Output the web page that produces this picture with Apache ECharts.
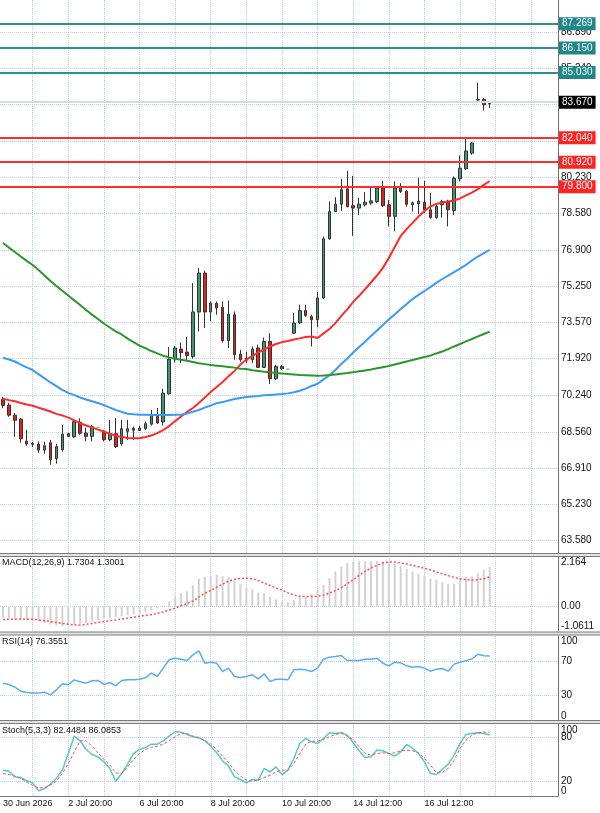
<!DOCTYPE html>
<html>
<head>
<meta charset="utf-8">
<script src="https://cdn.jsdelivr.net/npm/echarts@6/dist/echarts.min.js"></script>
<style>
  html, body { margin: 0; padding: 0; background: #fff; }
  #chart { width: 600px; height: 813px; }
</style>
</head>
<body>
<div id="chart"></div>
<script>
// ---- data (H4 bars, oldest first) ----
const opens = [70.04,69.79,69.33,69.15,68.14,68.03,68.01,67.73,68.07,67.34,
  67.75,68.48,68.34,69.01,68.51,68.36,68.77,68.59,68.21,68.48,
  68.02,68.59,68.73,68.63,68.71,68.92,69.27,69.02,70.31,71.90,
  72.36,72.22,72.02,74.06,75.84,74.06,74.45,74.27,72.75,73.93,
  72.13,71.95,71.87,72.41,71.52,72.71,71.00,71.56,71.44,73.09,
  73.56,74.13,73.85,73.70,74.70,77.41,78.66,79.00,79.70,78.93,
  78.82,78.97,79.05,79.12,79.74,78.97,78.44,79.76,79.58,78.97,
  79.02,79.08,78.74,78.39,78.97,79.12,78.70,80.16,80.62,81.34,
  83.80,83.81,83.61];
const closes = [69.78,69.33,69.10,68.25,68.01,68.00,67.73,67.93,67.29,67.89,
  68.46,68.36,69.03,68.50,68.36,68.80,68.77,68.21,68.48,67.89,
  68.71,68.71,68.64,68.74,68.94,69.35,68.97,70.34,71.90,72.41,
  72.20,72.07,74.06,75.84,74.06,74.47,74.24,72.75,73.96,72.10,
  71.87,71.85,72.36,71.52,72.71,71.00,71.56,71.46,71.44,73.55,
  74.13,73.90,73.70,74.70,77.41,78.66,79.00,79.66,78.89,78.82,
  79.00,79.09,79.15,79.74,78.93,78.44,79.74,79.58,79.00,79.06,
  79.14,78.74,78.39,78.89,79.12,78.74,80.19,80.65,81.44,81.80,
  83.77,83.55,83.67];
const lows = [69.65,69.26,68.34,68.07,67.93,67.88,67.61,67.56,67.06,67.11,
  67.66,68.32,68.28,68.43,68.13,68.13,68.74,68.13,68.13,67.83,
  67.93,68.20,68.20,68.62,68.66,68.86,68.94,68.86,70.27,71.75,
  71.72,71.84,71.92,73.17,73.32,73.63,73.93,72.66,72.40,71.87,
  71.78,71.71,71.72,71.49,71.49,70.76,70.95,71.41,71.42,73.05,
  73.50,73.84,72.48,73.35,74.65,77.37,78.64,78.70,78.85,77.55,
  78.51,78.89,78.97,79.05,78.87,77.98,77.75,79.51,78.89,78.66,
  78.56,78.59,78.33,78.33,78.38,77.98,78.51,80.04,80.57,81.26,
  83.74,83.29,83.40];
const highs = [70.17,69.90,69.43,69.21,68.66,68.11,68.13,68.11,68.20,68.02,
  68.89,68.53,69.14,69.19,68.76,68.89,68.80,68.66,69.12,69.20,
  69.12,69.12,68.81,68.85,69.04,69.58,69.66,70.54,72.45,72.51,
  72.66,72.91,75.38,76.07,75.95,74.54,74.54,74.54,74.59,74.08,
  72.33,72.24,72.48,72.56,72.89,73.09,71.64,71.64,71.47,74.01,
  74.39,74.39,73.93,74.99,77.52,79.12,79.32,80.16,80.53,80.30,
  79.29,79.55,79.73,79.81,80.07,79.20,80.04,79.96,79.66,79.12,
  80.21,80.07,79.51,78.97,79.20,79.20,80.27,81.23,82.03,81.86,
  84.57,83.86,83.73];

const maFast = [70.08,70.02,69.97,69.89,69.82,69.76,69.67,69.59,69.50,69.39,
  69.32,69.22,69.09,68.96,68.86,68.77,68.67,68.58,68.48,68.39,
  68.33,68.29,68.27,68.27,68.33,68.40,68.51,68.65,68.83,69.06,
  69.27,69.48,69.66,69.89,70.14,70.39,70.62,70.85,71.12,71.36,
  71.65,71.88,72.04,72.21,72.34,72.48,72.59,72.68,72.73,72.80,
  72.85,72.91,72.94,72.87,73.08,73.28,73.55,73.88,74.18,74.52,
  74.80,75.10,75.41,75.73,76.08,76.53,77.04,77.54,77.86,78.14,
  78.43,78.69,78.89,79.01,79.08,79.12,79.17,79.26,79.40,79.53,
  79.69,79.88,80.06];
const maMid = [71.96,71.88,71.79,71.65,71.52,71.40,71.21,71.02,70.83,70.66,
  70.49,70.35,70.25,70.14,70.05,69.97,69.89,69.79,69.68,69.57,
  69.48,69.40,69.37,69.35,69.35,69.34,69.34,69.34,69.34,69.35,
  69.35,69.41,69.49,69.57,69.68,69.77,69.88,69.93,70.00,70.07,
  70.12,70.16,70.19,70.21,70.24,70.26,70.28,70.30,70.33,70.38,
  70.45,70.55,70.67,70.77,70.97,71.15,71.40,71.68,71.93,72.20,
  72.45,72.70,72.96,73.21,73.46,73.72,73.94,74.20,74.42,74.65,
  74.84,75.02,75.20,75.39,75.57,75.73,75.89,76.05,76.22,76.42,
  76.60,76.76,76.90];
const maSlow = [77.22,77.01,76.81,76.60,76.40,76.21,75.98,75.73,75.48,75.25,
  75.03,74.81,74.59,74.38,74.15,73.94,73.74,73.53,73.35,73.17,
  73.03,72.84,72.68,72.52,72.40,72.27,72.16,72.05,71.98,71.92,
  71.87,71.82,71.77,71.71,71.67,71.63,71.60,71.57,71.54,71.51,
  71.46,71.45,71.39,71.36,71.32,71.30,71.26,71.24,71.22,71.20,
  71.17,71.16,71.15,71.14,71.15,71.17,71.20,71.23,71.26,71.30,
  71.34,71.38,71.42,71.48,71.53,71.58,71.65,71.72,71.79,71.86,
  71.93,72.00,72.06,72.16,72.25,72.36,72.48,72.59,72.71,72.82,
  72.94,73.05,73.16];

const macdMain = [-0.48,-0.50,-0.53,-0.56,-0.60,-0.62,-0.64,-0.70,-0.78,-0.82,
  -0.85,-0.82,-0.80,-0.74,-0.70,-0.64,-0.58,-0.52,-0.48,-0.45,
  -0.42,-0.38,-0.34,-0.30,-0.24,-0.15,-0.08,0.05,0.22,0.44,
  0.59,0.66,0.92,1.22,1.29,1.35,1.39,1.32,1.29,1.17,
  0.98,0.81,0.76,0.61,0.59,0.44,0.32,0.22,0.18,0.29,
  0.44,0.44,0.56,0.73,0.95,1.24,1.54,1.76,1.90,1.95,
  1.98,1.98,1.98,1.98,1.98,1.93,1.87,1.76,1.64,1.54,
  1.43,1.36,1.22,1.17,1.07,1.00,1.00,1.24,1.29,1.32,
  1.46,1.61,1.73];
const macdSignal = [-0.56,-0.55,-0.55,-0.54,-0.54,-0.55,-0.58,-0.61,-0.65,-0.69,
  -0.73,-0.77,-0.80,-0.80,-0.77,-0.73,-0.69,-0.65,-0.61,-0.58,
  -0.54,-0.50,-0.46,-0.42,-0.38,-0.35,-0.29,-0.23,-0.15,-0.07,
  0.04,0.13,0.25,0.41,0.59,0.70,0.85,0.98,1.11,1.19,
  1.23,1.24,1.22,1.14,1.02,0.92,0.82,0.72,0.60,0.51,
  0.45,0.44,0.44,0.45,0.50,0.59,0.70,0.83,1.00,1.17,
  1.36,1.54,1.68,1.80,1.90,1.95,1.95,1.90,1.86,1.80,
  1.74,1.67,1.60,1.51,1.43,1.36,1.27,1.22,1.17,1.16,
  1.17,1.22,1.30];

const rsi = [44.5,43.0,39.8,35.1,33.5,32.8,32.8,33.9,30.8,36.7,
  43.7,42.6,48.4,46.1,44.5,47.3,47.7,43.0,45.3,41.4,
  47.7,48.4,48.4,49.2,50.8,56.3,52.4,62.2,72.0,73.9,
  72.7,71.2,77.8,82.5,68.0,69.2,68.0,58.2,62.2,52.4,
  51.2,52.4,54.3,49.6,55.5,46.5,49.2,49.2,48.4,60.2,
  61.0,60.2,58.2,62.2,72.7,75.1,75.9,77.1,71.2,71.2,
  71.2,72.7,72.7,73.9,68.0,64.9,69.2,68.4,64.9,63.3,
  64.1,62.2,58.6,61.0,61.8,58.6,66.9,69.2,70.8,73.1,
  78.5,76.8,76.36];

const stochMain = [34.9,33.5,25.9,25.0,20.5,17.8,6.9,10.1,16.0,23.6,
  34.9,57.5,80.9,74.6,62.9,56.1,52.9,46.2,37.2,20.0,
  30.4,43.0,57.5,62.9,65.6,70.1,70.1,74.6,80.9,86.8,
  86.3,83.2,80.0,79.1,74.6,67.4,58.4,47.5,40.3,25.9,
  22.3,17.8,22.3,21.4,37.2,32.6,39.4,29.0,34.9,50.7,
  71.0,77.7,73.2,71.0,77.7,85.4,84.5,85.9,82.3,71.9,
  61.1,52.0,52.9,62.0,61.1,57.5,53.8,59.7,69.6,64.2,
  57.5,46.2,30.4,29.0,35.8,43.0,55.2,71.0,83.2,84.5,
  85.4,84.5,82.45];
const stochSignal = [30.4,29.0,26.8,23.6,19.1,14.6,11.0,11.0,14.6,20.0,
  30.4,43.9,59.7,74.6,74.6,67.4,58.4,49.3,41.7,31.3,
  30.4,39.4,49.3,57.5,62.9,65.6,67.4,70.1,74.6,80.0,
  84.5,84.5,80.9,77.7,75.5,70.1,62.9,53.8,44.8,34.9,
  26.8,21.4,20.0,21.4,25.0,28.1,32.6,34.9,34.9,43.9,
  57.5,70.1,74.1,74.1,76.4,80.0,83.2,84.5,80.9,76.4,
  66.5,57.5,55.2,57.5,58.4,57.5,58.4,61.1,62.0,61.1,
  58.4,50.7,41.7,31.3,31.7,37.2,48.4,64.2,75.5,82.3,
  85.5,86.2,86.09];

// horizontal levels drawn on the chart
const tealLevels = [87.269, 86.150, 85.030];
const redLevels = [82.040, 80.920, 79.800];
const lastPrice = 83.670;

// axis ticks
const priceTicks = [63.58,65.23,66.91,68.56,70.24,71.92,73.57,75.25,76.90,78.58,80.23,81.90,83.57,85.24,86.89];
const macdTicks = [-1.0611, 0, 2.164];
const macdTickText = ['-1.0611', '0.00', '2.164'];
const rsiTicks = [0, 30, 70, 100];
const rsiLevels = [30, 70];
const stochEdgeTicks = [0, 100];
const stochLevels = [20, 80];
const timeTickIndex = [0, 11, 23, 35, 47, 59, 71];
const timeTickText = ['30 Jun 2026', '2 Jul 20:00', '6 Jul 20:00', '8 Jul 20:00', '10 Jul 20:00', '14 Jul 12:00', '16 Jul 12:00'];
const gridBars = [5, 11, 17, 23, 29, 35, 41, 47, 53, 59, 65, 71, 77, 83, 89];

// 83 bars plus empty room on the right (chart shift)
const slotCount = 94;
const categories = [];
for (let i = 0; i < slotCount; i++) categories.push(String(i));

const font = 'Liberation Sans';
const gridColor = '#bfcfe6';
const tealColor = '#2a9191';
const redColor = '#ff2d2d';

const candles = opens.map((o, i) => [o, closes[i], lows[i], highs[i]]);

const grids = [
  { left: 0, right: 42, top: 0, height: 553 },
  { left: 0, right: 42, top: 557, height: 74 },
  { left: 0, right: 42, top: 636, height: 85 },
  { left: 0, right: 42, top: 722, height: 74 }
];

function makeXAxis(k, withLabels) {
  return {
    type: 'category', gridIndex: k, data: categories, boundaryGap: true,
    axisLine: { show: withLabels, lineStyle: { color: '#7a7a7a' } },
    axisTick: { show: false },
    splitLine: { show: false },
    axisLabel: withLabels ? {
      interval: (idx) => timeTickIndex.indexOf(idx) >= 0,
      formatter: (val) => {
        const k2 = timeTickIndex.indexOf(Number(val));
        return k2 >= 0 ? timeTickText[k2] : '';
      },
      align: 'left', margin: 3, fontSize: 9, color: '#111', fontFamily: font
    } : { show: false }
  };
}

function makeYAxis(k, min, max, ticks, fmt, edgeAlign, showLine, pad) {
  return {
    type: 'value', gridIndex: k, position: 'right', min: min, max: max,
    axisLine: { show: showLine !== false, lineStyle: { color: '#6e6e6e' } },
    axisTick: { show: false },
    splitLine: { show: false },
    axisLabel: {
      customValues: ticks, formatter: fmt, margin: 3,
      fontSize: 10, color: '#111', fontFamily: font,
      padding: pad || 0,
      showMinLabel: true, showMaxLabel: true, hideOverlap: false,
      verticalAlignMaxLabel: edgeAlign ? 'top' : 'middle',
      verticalAlignMinLabel: edgeAlign ? 'bottom' : 'middle'
    }
  };
}

// dotted grid lines for one pane
function gridLines(k, hValues) {
  return {
    type: 'line', xAxisIndex: k, yAxisIndex: k, data: [], z: 0, silent: true,
    markLine: {
      silent: true, symbol: ['none', 'none'], z: 0, animation: false,
      label: { show: false },
      lineStyle: { color: gridColor, type: 'dotted', width: 1 },
      data: gridBars.map(i => ({ xAxis: i })).concat(hValues.map(v => ({ yAxis: v })))
    }
  };
}

function levelLine(v, lineColor, boxColor, width) {
  return {
    yAxis: v,
    lineStyle: { color: lineColor, width: width, type: 'solid' },
    label: { backgroundColor: boxColor }
  };
}

const chart = echarts.init(document.getElementById('chart'));

const option = {
  animation: false,
  backgroundColor: '#fff',
  textStyle: { fontFamily: font },
  title: [
    { text: 'MACD(12,26,9) 1.7304 1.3001', left: 2, top: 558, padding: 0,
      textStyle: { fontSize: 9, fontWeight: 'normal', color: '#111', fontFamily: font } },
    { text: 'RSI(14) 76.3551', left: 2, top: 637, padding: 0,
      textStyle: { fontSize: 9, fontWeight: 'normal', color: '#111', fontFamily: font } },
    { text: 'Stoch(5,3,3) 82.4484 86.0853', left: 2, top: 726, padding: 0,
      textStyle: { fontSize: 9, fontWeight: 'normal', color: '#111', fontFamily: font } }
  ],
  grid: grids,
  xAxis: [makeXAxis(0, false), makeXAxis(1, false), makeXAxis(2, false), makeXAxis(3, true)],
  yAxis: [
    makeYAxis(0, 63.016, 88.354, priceTicks, v => v.toFixed(3), false),
    makeYAxis(1, -1.0611, 2.164, macdTicks, v => macdTickText[macdTicks.indexOf(v)] || '', true),
    makeYAxis(2, 0, 100, rsiTicks, v => String(v), true),
    makeYAxis(3, 0, 100, stochLevels, v => String(v), false),
    makeYAxis(3, 0, 100, stochEdgeTicks, v => String(v), true, false, [3, 0, 0, 0])
  ],
  graphic: [553, 631.5, 720].map(y => ({
    type: 'rect', z: 100, silent: true,
    shape: { x: -1, y: y + 0.5, width: 602, height: 3 },
    style: { fill: '#e2e2e2', stroke: '#7c7c7c', lineWidth: 1 }
  })),
  series: [
    gridLines(0, priceTicks),
    gridLines(1, [0]),
    gridLines(2, rsiLevels),
    gridLines(3, stochLevels),
    {
      name: 'price', type: 'candlestick', xAxisIndex: 0, yAxisIndex: 0,
      data: candles, barWidth: 3, z: 2,
      itemStyle: {
        color: '#3a9a68', color0: '#e3211c',
        borderColor: '#333', borderColor0: '#333', borderWidth: 1,
        borderColorDoji: '#5fe35f'
      },
      markLine: {
        silent: true, symbol: ['none', 'none'], animation: false, precision: 3,
        label: {
          position: 'end', distance: 1, color: '#fff', fontSize: 10, fontFamily: font,
          padding: [2, 3, 1, 3], formatter: p => Number(p.value).toFixed(3)
        },
        data: [
          levelLine(lastPrice, '#d3dbe8', '#000', 2),
          ...tealLevels.map(v => levelLine(v, tealColor, '#1f8787', 2)),
          ...redLevels.map(v => levelLine(v, redColor, '#ff2424', 2))
        ]
      }
    },
    { name: 'MA fast', type: 'line', xAxisIndex: 0, yAxisIndex: 0, data: maFast, z: 3,
      symbol: 'none', lineStyle: { color: '#ff2a2a', width: 2 } },
    { name: 'MA mid', type: 'line', xAxisIndex: 0, yAxisIndex: 0, data: maMid, z: 3,
      symbol: 'none', lineStyle: { color: '#3a9bf5', width: 2 } },
    { name: 'MA slow', type: 'line', xAxisIndex: 0, yAxisIndex: 0, data: maSlow, z: 3,
      symbol: 'none', lineStyle: { color: '#2b962b', width: 2 } },
    { name: 'MACD', type: 'bar', xAxisIndex: 1, yAxisIndex: 1, data: macdMain,
      barWidth: 2, itemStyle: { color: '#d2d2d2' } },
    { name: 'Signal', type: 'line', xAxisIndex: 1, yAxisIndex: 1, data: macdSignal, z: 3,
      symbol: 'none', lineStyle: { color: '#ff5050', width: 1.5, type: [2, 2] } },
    { name: 'RSI', type: 'line', xAxisIndex: 2, yAxisIndex: 2, data: rsi, z: 3,
      symbol: 'none', lineStyle: { color: '#5aacf2', width: 1.5 } },
    { name: 'Stoch main', type: 'line', xAxisIndex: 3, yAxisIndex: 3, data: stochMain, z: 3,
      symbol: 'none', lineStyle: { color: '#52cbc6', width: 1.5 } },
    { name: 'Stoch signal', type: 'line', xAxisIndex: 3, yAxisIndex: 3, data: stochSignal, z: 3,
      symbol: 'none', lineStyle: { color: '#ff5050', width: 1, type: [3, 2] } }
  ]
};

chart.setOption(option);
</script>
</body>
</html>
